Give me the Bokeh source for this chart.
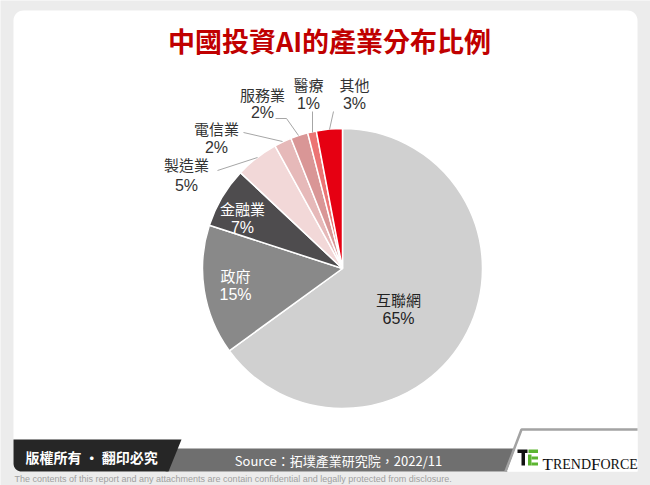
import numpy as np
from bokeh.plotting import figure
from bokeh.models import ColumnDataSource, Range1d
from bokeh.core.properties import value
from bokeh.embed import file_html
from bokeh.resources import INLINE

# ---------------- data ----------------
categories = ["互聯網", "政府", "金融業", "製造業", "電信業", "服務業", "醫療", "其他"]
shares = [65, 15, 7, 5, 2, 2, 1, 3]
pct_labels = [f"{s}%" for s in shares]
title_text = "中國投資AI的產業分布比例"
source_text = "Source：拓墣產業研究院，2022/11"
copyright_text = "版權所有 · 翻印必究"
disclaimer_text = ("The contents of this report and any attachments are contain confidential "
                   "and legally protected from disclosure.")

# ---------------- styles / layout ----------------
slice_colors = ["#d0d0d0", "#898989", "#4e4c4e", "#f2d8d8", "#e6b9b9", "#d99696", "#ec7474", "#e60012"]
label_colors = ["#222222", "#ffffff", "#ffffff", "#333333", "#333333", "#333333", "#333333", "#333333"]
# label anchor positions in screen pixels (x, name y, percent y)
label_xy = [(398, 299, 318), (235, 275, 294), (242, 208, 227), (186, 164, 185),
            (216, 128, 147), (262, 94, 112), (308, 84, 103), (354, 84, 103)]
leader_lines = [
    [(217, 170), (257, 157)],
    [(243, 132), (282, 141)],
    [(275, 118), (286, 118), (298, 135)],
    [(312, 111), (312, 132)],
    [(333, 111), (329, 129)],
]

W, H = 650, 485
CX, CY, R = 342, 268, 140


def Y(y):
    return H - y


def rounded_rect(x0, y0, x1, y1, radii):
    tl, tr, br, bl = radii
    xs, ys = [], []

    def corner(cx, cy, r, a0, a1, px, py):
        if r <= 0:
            xs.append(px)
            ys.append(py)
            return
        t = np.linspace(np.radians(a0), np.radians(a1), 10)
        xs.extend(list(cx + r * np.cos(t)))
        ys.extend(list(cy + r * np.sin(t)))

    corner(x0 + tl, y0 + tl, tl, 180, 270, x0, y0)
    corner(x1 - tr, y0 + tr, tr, 270, 360, x1, y0)
    corner(x1 - br, y1 - br, br, 0, 90, x1, y1)
    corner(x0 + bl, y1 - bl, bl, 90, 180, x0, y1)
    return xs, [Y(v) for v in ys]


p = figure(width=W, height=H, x_range=Range1d(0, W), y_range=Range1d(0, H),
           output_backend="svg", toolbar_location=None, min_border=0,
           background_fill_color="#ececec", border_fill_color="#ececec",
           outline_line_color=None)
p.axis.visible = False
p.grid.visible = False

# card
cx_, cy_ = rounded_rect(13, 10, 637, 471, (10, 10, 0, 8))
p.patch(cx_, cy_, fill_color="white", line_color=None)

# ---------------- pie ----------------
sh = np.array(shares, dtype=float)
frac = sh / sh.sum() * 2 * np.pi
theta_end = np.cumsum(frac)
theta_start = theta_end - frac
src = ColumnDataSource(dict(
    cat=categories,
    start=list(np.pi / 2 - theta_start),
    end=list(np.pi / 2 - theta_end),
    color=slice_colors,
))
p.wedge(x=CX, y=Y(CY), radius=R, start_angle="start", end_angle="end",
        direction="clock", fill_color="color", line_color="white", line_width=1.5,
        source=src)

# leader lines
p.multi_line(xs=[[pt[0] for pt in ln] for ln in leader_lines],
             ys=[[Y(pt[1]) for pt in ln] for ln in leader_lines],
             line_color="#a6a6a6", line_width=1)

lab = ColumnDataSource(dict(
    x=[xy[0] for xy in label_xy],
    yn=[Y(xy[1]) for xy in label_xy],
    yp=[Y(xy[2]) for xy in label_xy],
    name=categories,
    pct=pct_labels,
    color=label_colors,
))
p.text(x="x", y="yn", text="name", source=lab, text_color="color",
       text_font=value("Noto Sans CJK TC"), text_font_size="15px",
       text_align="center", text_baseline="middle")
p.text(x="x", y="yp", text="pct", source=lab, text_color="color",
       text_font=value("Liberation Sans"), text_font_size="16px",
       text_align="center", text_baseline="middle")

# title
p.text(x=[329], y=[Y(40)], text=[title_text], text_color="#c00000",
       text_font=value("Noto Sans CJK TC"), text_font_style="bold",
       text_font_size="27px", text_align="center", text_baseline="middle")

# ---------------- footer ----------------
# grey band
p.patch([175, 521, 507, 165], [Y(448), Y(448), Y(471), Y(471)],
        fill_color="#6f6f6f", line_color=None)
# dark band with rounded bottom-left corner and slanted right edge
t = np.linspace(np.pi / 2, np.pi, 10)
blx = list(21 + 8 * np.cos(t))
bly = [Y(v) for v in (463 + 8 * np.sin(t))]
p.patch([13, 181, 168] + blx, [Y(439), Y(439), Y(471)] + bly,
        fill_color="#262626", line_color=None)
# white logo box with grey border
p.patch([506, 521, 637, 637], [Y(471), Y(430), Y(430), Y(471)], fill_color="white", line_color=None)
p.line([505, 521, 637], [Y(471), Y(429), Y(429)], line_color="#a3a3a3", line_width=2.5)

# logo icon
p.quad(left=[517, 521], right=[527, 524.5], top=[Y(449), Y(452)], bottom=[Y(452.5), Y(465)],
       fill_color="#111111", line_color=None)
p.quad(left=[528, 527.5, 531, 531], right=[537.5, 531, 537.5, 537.5],
       top=[Y(449), Y(454), Y(456), Y(462)], bottom=[Y(452.5), Y(465), Y(459), Y(465)],
       fill_color="#5cb531", line_color=None)
logo_parts = ["T", "REND", "F", "ORCE"]
logo_x = [542, 552.4, 590.6, 600]
logo_sz = ["17px", "14px", "17px", "14px"]
for t_, x_, s_ in zip(logo_parts, logo_x, logo_sz):
    p.text(x=[x_], y=[Y(464)], text=[t_], text_color="#111111",
           text_font=value("Liberation Serif"), text_font_size=s_,
           text_align="left", text_baseline="alphabetic")

p.text(x=[25], y=[Y(456)], text=[copyright_text], text_color="white",
       text_font=value("Noto Sans CJK TC"), text_font_style="bold",
       text_font_size="14px", text_align="left", text_baseline="middle")
p.text(x=[338], y=[Y(460)], text=[source_text], text_color="white",
       text_font=value("Noto Sans CJK TC"), text_font_size="13px",
       text_align="center", text_baseline="middle")
p.text(x=[14], y=[Y(478.5)], text=[disclaimer_text], text_color="#a0a0a0",
       text_font=value("Liberation Sans"), text_font_size="9px",
       text_align="left", text_baseline="middle")

open("out.html", "w").write(file_html(p, INLINE))
